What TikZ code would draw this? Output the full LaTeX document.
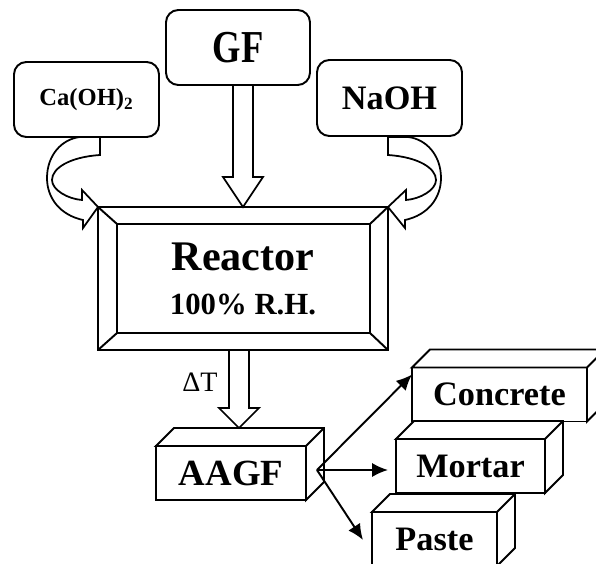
\documentclass[tikz,border=0pt]{standalone}
\usepackage{fontspec}
\setmainfont{Liberation Serif}
\usetikzlibrary{arrows.meta, positioning, calc}

\begin{document}
\begin{tikzpicture}[
  x=0.02cm, y=-0.02cm, line width=1.1pt,
  chem/.style={rectangle, draw, rounded corners=7pt, inner sep=0pt, outer sep=0pt,
    minimum width=2.9cm, minimum height=1.5cm, font=\bfseries\fontsize{19.5}{22}\selectfont},
  frame/.style={rectangle, draw, inner sep=0pt, outer sep=0pt,
    minimum width=5.8cm, minimum height=2.86cm, font=\bfseries, align=center},
  brick/.style={rectangle, draw, fill=white, inner sep=0pt, outer sep=0pt,
    minimum height=1.08cm, font=\bfseries\fontsize{19.5}{22}\selectfont},
  fat/.style={draw, fill=white, line width=1pt, line join=miter},
  link/.style={-{Latex[length=9pt, width=8pt]}, line width=1.1pt},
]
  \useasboundingbox (0,0) rectangle (596,564);
  \clip (0,0) rectangle (596,564);

  % inputs
  \node[chem, font=\bfseries\fontsize{14}{16}\selectfont] (ca) at (86.5,99.5) {Ca(OH)\textsubscript{2}};
  \node[chem, minimum width=2.88cm, font=\bfseries\fontsize{26}{30}\selectfont] (gf) at (238,47.5) {\scalebox{0.8}[1]{GF}};
  \node[chem, minimum height=1.52cm] (naoh) at (389.5,98) {NaOH};

  % reactor with bevelled frame
  \node[frame] (reactor) at (243,278.5)
    {\fontsize{24}{28}\selectfont Reactor\\[13pt]\fontsize{17.5}{20}\selectfont 100\% R.H.};
  \draw ([shift={(19,17)}]reactor.north west) rectangle ([shift={(-18,-17)}]reactor.south east);
  \draw (reactor.north west) -- ++(19,17) (reactor.north east) -- ++(-18,17)
        (reactor.south west) -- ++(19,-17) (reactor.south east) -- ++(-18,-17);

  % curved feeds
  \draw[fat] (100,137) -- (100,155) .. controls (70,157) and (52,168) .. (52,180)
    .. controls (52,190) and (68,199) .. (82,200) -- (82,190) -- (reactor.north west)
    -- (83,228) -- (83,220) .. controls (60,215) and (47,198) .. (47,178)
    .. controls (47,155) and (62,139) .. (80,137) -- cycle;
  \draw[fat] (388,137) -- (388,155) .. controls (418,157) and (436,168) .. (436,180)
    .. controls (436,190) and (420,199) .. (406,200) -- (406,190) -- (reactor.north east)
    -- (405,228) -- (405,220) .. controls (428,215) and (441,198) .. (441,178)
    .. controls (441,155) and (426,139) .. (408,137) -- cycle;

  % GF feed
  \coordinate (gfa) at (reactor.north |- gf.south);
  \draw[fat] (reactor.north) -- ++(-20,-30) -- ++(10,0) -- ($(gfa)+(-10,0)$)
    -- ($(gfa)+(10,0)$) -- ($(reactor.north)+(10,-30)$) -- ++(10,0) -- cycle;

  % products
  \node[brick, minimum width=3.5cm] (concrete) at (499.5,394.5) {Concrete};
  \node[brick, minimum width=2.98cm] (mortar) at (470.5,466) {Mortar};
  \node[brick, minimum width=2.5cm] (paste) at (434.5,539) {Paste};
  \node[brick, minimum width=3cm, font=\bfseries\fontsize{21}{24}\selectfont] (aagf) at (231,473) {AAGF};
  \foreach \b in {concrete, mortar, paste, aagf}
    \draw[fill=white] (\b.north west) -- ++(18,-18) -- ([shift={(18,-18)}]\b.north east)
      -- ([shift={(18,-18)}]\b.south east) -- (\b.south east) -- (\b.north east) -- cycle
      (\b.north east) -- ([shift={(18,-18)}]\b.north east);

  % curing step
  \coordinate (dtip) at ($(aagf.north)+(8,-18)$);
  \coordinate (dtop) at (dtip |- reactor.south);
  \draw[fat] (dtip) -- ++(-20,-20) -- ++(10,0) -- ($(dtop)+(-10,0)$)
    -- ($(dtop)+(10,0)$) -- ($(dtip)+(10,-20)$) -- ++(10,0) -- cycle;
  \node[font=\fontsize{16}{18}\selectfont] (dt) at (200,382) {ΔT};

  \coordinate (src) at ($(aagf.east)+(11,-3)$);
  \draw[link] (src) -- ($(concrete.north west)+(0,7)$);
  \draw[link] (src) -- ($(mortar.west)+(-8,4)$);
  \draw[link] (src) -- ($(paste.north west)+(-9,28)$);
\end{tikzpicture}
\end{document}
